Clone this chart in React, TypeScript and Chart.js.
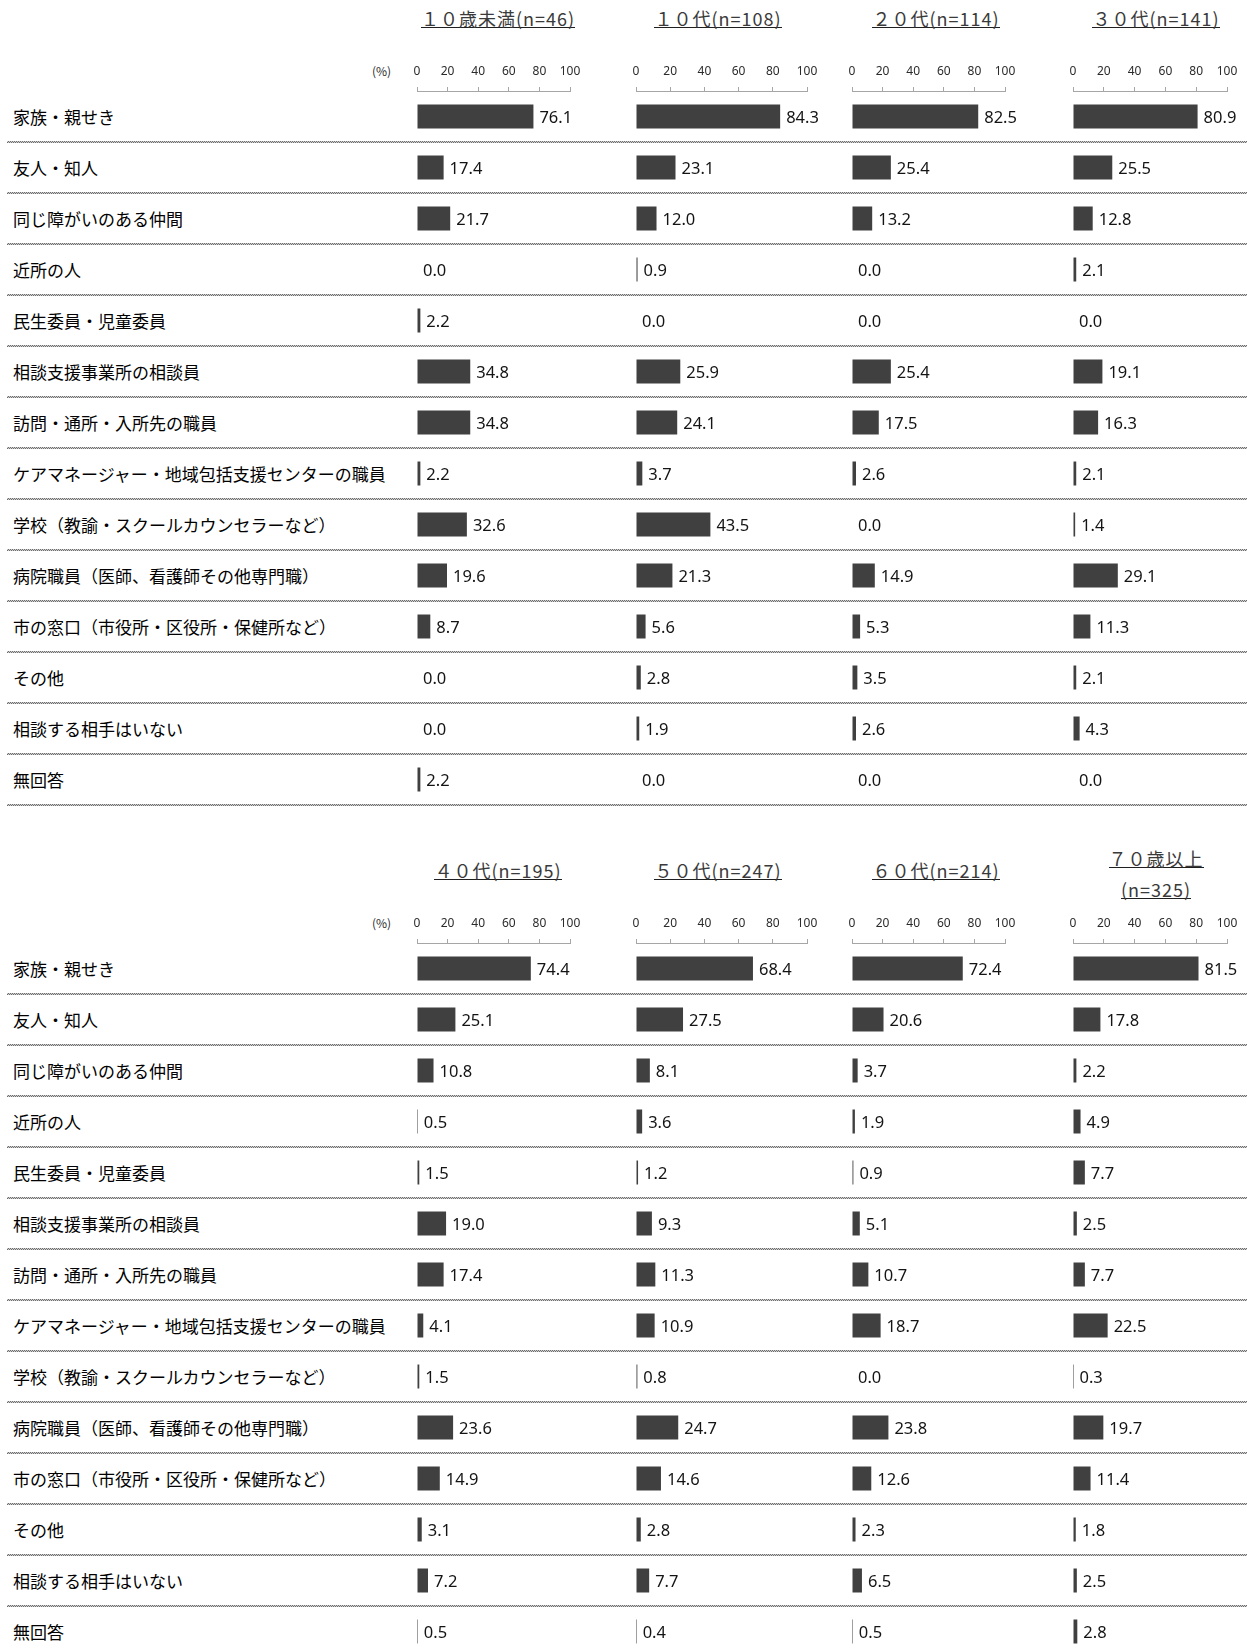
import React, { useEffect, useRef } from "react";
import { Chart, registerables } from "chart.js";

Chart.register(...registerables);

// ---------------- data ----------------
const categories = [
  "家族・親せき",
  "友人・知人",
  "同じ障がいのある仲間",
  "近所の人",
  "民生委員・児童委員",
  "相談支援事業所の相談員",
  "訪問・通所・入所先の職員",
  "ケアマネージャー・地域包括支援センターの職員",
  "学校（教諭・スクールカウンセラーなど）",
  "病院職員（医師、看護師その他専門職）",
  "市の窓口（市役所・区役所・保健所など）",
  "その他",
  "相談する相手はいない",
  "無回答",
];

const topTitles = [["１０歳未満(n=46)"], ["１０代(n=108)"], ["２０代(n=114)"], ["３０代(n=141)"]];
const bottomTitles = [["４０代(n=195)"], ["５０代(n=247)"], ["６０代(n=214)"], ["７０歳以上", "(n=325)"]];

const under10 = [76.1, 17.4, 21.7, 0.0, 2.2, 34.8, 34.8, 2.2, 32.6, 19.6, 8.7, 0.0, 0.0, 2.2];
const teens = [84.3, 23.1, 12.0, 0.9, 0.0, 25.9, 24.1, 3.7, 43.5, 21.3, 5.6, 2.8, 1.9, 0.0];
const twenties = [82.5, 25.4, 13.2, 0.0, 0.0, 25.4, 17.5, 2.6, 0.0, 14.9, 5.3, 3.5, 2.6, 0.0];
const thirties = [80.9, 25.5, 12.8, 2.1, 0.0, 19.1, 16.3, 2.1, 1.4, 29.1, 11.3, 2.1, 4.3, 0.0];
const forties = [74.4, 25.1, 10.8, 0.5, 1.5, 19.0, 17.4, 4.1, 1.5, 23.6, 14.9, 3.1, 7.2, 0.5];
const fifties = [68.4, 27.5, 8.1, 3.6, 1.2, 9.3, 11.3, 10.9, 0.8, 24.7, 14.6, 2.8, 7.7, 0.4];
const sixties = [72.4, 20.6, 3.7, 1.9, 0.9, 5.1, 10.7, 18.7, 0.0, 23.8, 12.6, 2.3, 6.5, 0.5];
const over70 = [81.5, 17.8, 2.2, 4.9, 7.7, 2.5, 7.7, 22.5, 0.3, 19.7, 11.4, 1.8, 2.5, 2.8];

const axisMin = 0;
const axisMax = 100;
const axisStep = 20;
const unitLabel = "(%)";

// ---------------- layout ----------------
const ROW_H = 51;
const AXIS_H = 40;
const PAD_L = 12;
const PAD_R = 22;
const PAD_B = 4;
const PANEL_X0 = [417, 636, 852, 1073];
const PANEL_W = [153, 171, 153, 154];
const TITLE_CX = [498, 718, 936, 1156];
const HALVES = [
  { base: 91, titleY: 19, series: [under10, teens, twenties, thirties], titles: topTitles },
  { base: 943, titleY: 871, series: [forties, fifties, sixties, over70], titles: bottomTitles },
];
const JP = '"Noto Sans CJK JP", "Noto Sans", sans-serif';

const valueLabelPlugin = {
  id: "valueLabels",
  afterDatasetsDraw(chart: any, _args: any, opts: any) {
    const { ctx } = chart;
    const xs = chart.scales.x;
    const ys = chart.scales.y;
    const values = opts.values as number[];
    ctx.save();
    ctx.font = '16.5px "Noto Sans", sans-serif';
    ctx.fillStyle = "#141414";
    ctx.textBaseline = "middle";
    ctx.textAlign = "left";
    values.forEach((v: number, i: number) => {
      ctx.fillText(v.toFixed(1), xs.getPixelForValue(v) + 6, ys.getPixelForValue(i) + 2);
    });
    ctx.restore();
  },
};

function Panel({ values, x0, w, base }: { values: number[]; x0: number; w: number; base: number }) {
  const ref = useRef<HTMLCanvasElement>(null);
  const cw = w + PAD_L + PAD_R;
  const ch = AXIS_H + ROW_H * categories.length + PAD_B;
  useEffect(() => {
    if (!ref.current) return;
    const chart = new Chart(ref.current, {
      type: "bar",
      data: {
        labels: categories,
        datasets: [
          {
            // zero values draw no bar at all (as in the source), others at least 1px
            data: values.map((v) => (v === 0 ? null : v)),
            backgroundColor: "#404040",
            borderWidth: 0,
            minBarLength: 1,
            categoryPercentage: 1,
            barPercentage: 24 / 51,
          },
        ],
      },
      options: {
        indexAxis: "y",
        responsive: false,
        animation: false,
        devicePixelRatio: 1,
        layout: { padding: { left: PAD_L, right: PAD_R, top: 0, bottom: PAD_B } },
        plugins: {
          legend: { display: false },
          tooltip: { enabled: false },
          valueLabels: { values },
        },
        scales: {
          x: {
            position: "top",
            min: axisMin,
            max: axisMax,
            ticks: {
              stepSize: axisStep,
              padding: 8,
              color: "#2b2b2b",
              maxRotation: 0,
              autoSkip: false,
              font: { family: '"Noto Sans", sans-serif', size: 12 },
            },
            grid: { drawOnChartArea: false, drawTicks: true, tickLength: 4, color: "#a6a6a6" },
            border: { display: true, color: "#a6a6a6", width: 1 },
            afterFit: (s: any) => {
              s.height = AXIS_H;
            },
          },
          y: { display: false, grid: { display: false } },
        },
      },
      plugins: [valueLabelPlugin],
    } as any);
    return () => chart.destroy();
  }, []);
  return (
    <canvas
      ref={ref}
      width={cw}
      height={ch}
      style={{ position: "absolute", left: x0 - PAD_L, top: base - AXIS_H, width: cw, height: ch }}
    />
  );
}

function Title({ lines, cx, cy }: { lines: string[]; cx: number; cy: number }) {
  const spacing = 31;
  const startY = cy - ((lines.length - 1) * spacing) / 2;
  return (
    <>
      {lines.map((t, i) => (
        <div
          key={i}
          style={{
            position: "absolute",
            left: cx - 150,
            width: 300,
            top: startY + i * spacing - 10,
          }}
        >
          <div
            style={{
              width: "fit-content",
              margin: "0 auto",
              fontFamily: JP,
              fontSize: 18,
              letterSpacing: "1px",
              lineHeight: "18px",
              color: "#3a3a3a",
              borderBottom: "1.4px solid #1f1f1f",
              whiteSpace: "nowrap",
            }}
          >
            {t}
          </div>
        </div>
      ))}
    </>
  );
}

export default function App() {
  const sepStyle = (y: number): React.CSSProperties => ({
    position: "absolute",
    left: 7,
    width: 1240,
    top: y - 1,
    height: 2,
    background: "repeating-conic-gradient(#6e6e6e 0% 25%, #cfcfcf 0% 50%) 0 0 / 2px 2px",
  });
  return (
    <div
      style={{
        position: "absolute",
        left: 0,
        top: 0,
        width: 1247,
        height: 1651,
        overflow: "hidden",
        background: "#ffffff",
      }}
    >
      {HALVES.map((h, hi) => (
        <React.Fragment key={hi}>
          {h.titles.map((lines, pi) => (
            <Title
              key={"t" + pi}
              lines={lines}
              cx={TITLE_CX[pi]}
              cy={lines.length > 1 ? h.titleY + 3 : h.titleY}
            />
          ))}
          <div
            style={{
              position: "absolute",
              left: 372,
              top: h.base - 19 - 9,
              fontFamily: JP,
              fontSize: 12,
              lineHeight: "16px",
              color: "#2b2b2b",
            }}
          >
            {unitLabel}
          </div>
          {categories.map((c, i) => {
            const cy = h.base + ROW_H / 2 + ROW_H * i;
            return (
              <div
                key={"l" + i}
                style={{
                  position: "absolute",
                  left: 13,
                  top: cy - 12,
                  height: 24,
                  lineHeight: "24px",
                  fontFamily: JP,
                  fontSize: 17,
                  color: "#000000",
                  whiteSpace: "nowrap",
                }}
              >
                {c}
              </div>
            );
          })}
          {categories.map((_, i) => (
            <div key={"s" + i} style={sepStyle(h.base + ROW_H * (i + 1))} />
          ))}
          {h.series.map((vals, pi) => (
            <Panel key={"p" + pi} values={vals} x0={PANEL_X0[pi]} w={PANEL_W[pi]} base={h.base} />
          ))}
        </React.Fragment>
      ))}
    </div>
  );
}
